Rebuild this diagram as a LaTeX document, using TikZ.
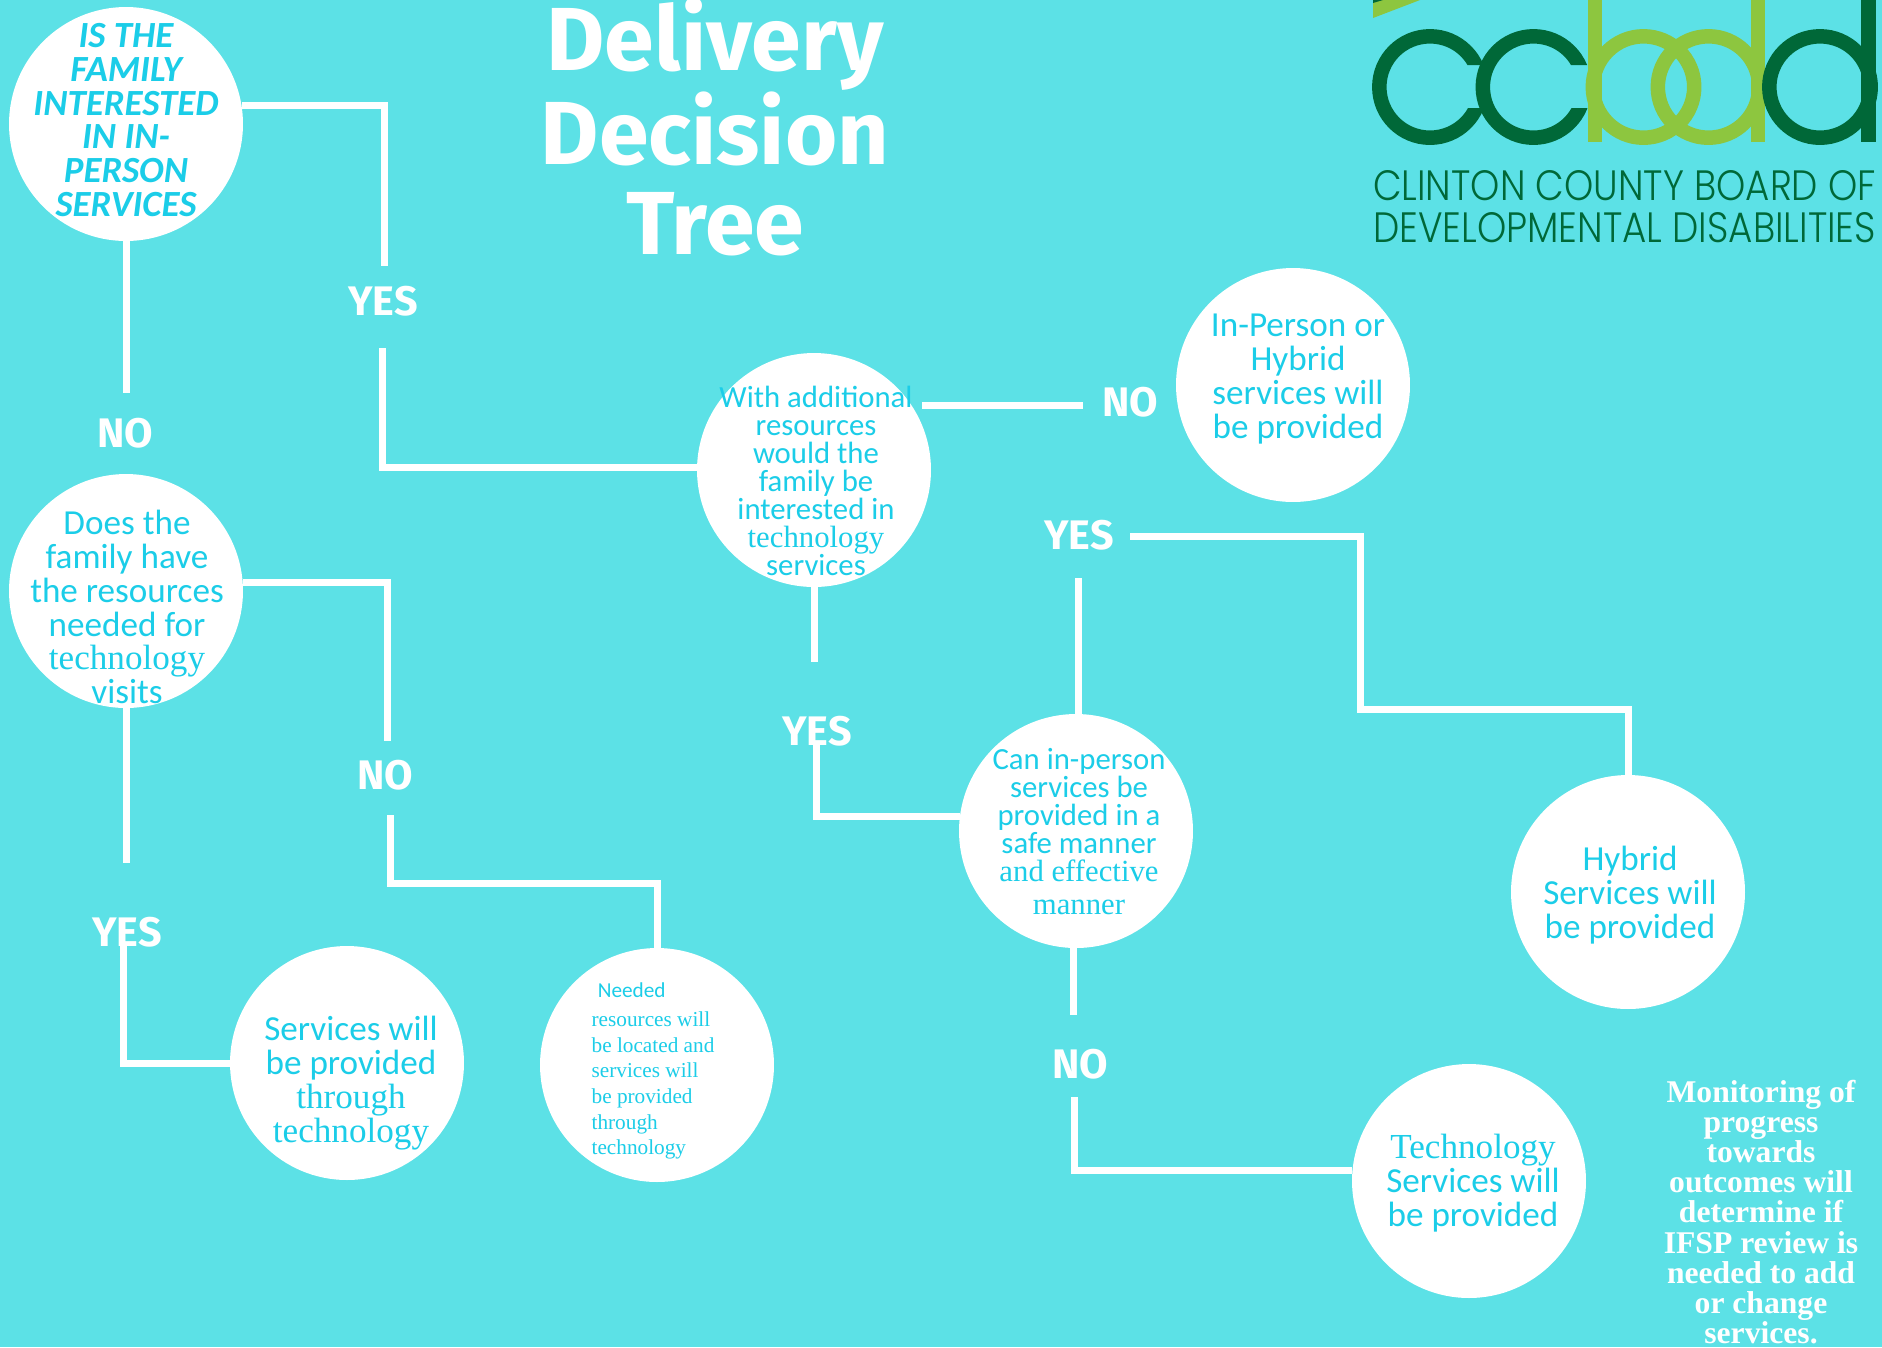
\documentclass[tikz,border=0pt]{standalone}
\usepackage{fontspec}
\usepackage{graphicx}
\setmainfont{Carlito}
\newfontfamily\wordserif{Liberation Serif}
\newfontfamily\headfont{Fira Sans}
\newfontfamily\logofont{Poppins}[UprightFont=* Light]
\definecolor{sheet}{HTML}{5CE1E6}
\definecolor{ink}{HTML}{1BCDE8}
\definecolor{logodark}{HTML}{006838}
\definecolor{logolight}{HTML}{8DC63F}
\tikzset{
	disc/.style={circle, fill=white, inner sep=0pt, minimum size=4.68cm},
	disctext/.style={text=ink, align=center, inner sep=0pt, font=\fontsize{20}{19.3}\selectfont},
	smalltext/.style={disctext, font=\fontsize{17.5}{15.9}\selectfont},
	tag/.style={text=white, inner sep=0pt, font=\headfont\bfseries\fontsize{23.5}{24}\selectfont},
	wire/.style={draw=white, line width=0.14cm},
	cring/.style={draw=logodark, line width=0.29cm},
	bring/.style={draw=logolight, line width=0.29cm},
}

\begin{document}
\begin{tikzpicture}[x=0.02cm, y=-0.02cm]
	\useasboundingbox (0,0) rectangle (1882,1347);
	\fill[sheet] (0,0) rectangle (1882,1347);

	% logo
	\foreach \cx in {1430,1533.5} {
		\begin{scope}[even odd rule]
			\clip (1340,-10) rectangle (1890,200) (\cx,65) rectangle (\cx+70,108);
			\draw[cring] (\cx,87) circle [radius=50.7];
		\end{scope}
	}
	\fill[logolight] (1373,18) -- (1373,0) -- (1420,0) -- cycle;
	\fill[logodark] (1373,3) -- (1373,0) -- (1383,0) -- cycle;
	\draw[bring] (1643.5,87) circle [radius=50.7];
	\draw[bring] (1708.5,87) circle [radius=50.7];
	\fill[logolight] (1588,0) rectangle (1602,142);
	\fill[logolight] (1750.5,0) rectangle (1764.5,142);
	\draw[cring] (1820,87) circle [radius=50.7];
	\fill[logodark] (1861,0) rectangle (1876,142);
	\node[text=logodark, inner sep=0pt] (logoline1) at (1624.5,185.5) {\resizebox{10.06cm}{0.6cm}{\logofont CLINTON COUNTY BOARD OF}};
	\node[text=logodark, inner sep=0pt] (logoline2) at (1624.5,227.5) {\resizebox{10.06cm}{0.6cm}{\logofont DEVELOPMENTAL DISABILITIES}};

	\node[text=white, align=center, inner sep=0pt, font=\headfont\bfseries\fontsize{51}{51}\selectfont] (title) at (715,127) {Delivery\\Decision\\Tree};

	\node[disc] (family) at (126,124) {};
	\node[disc] (resources) at (126,591) {};
	\node[disc] (additional) at (814,470) {};
	\node[disc] (hybridor) at (1293,385) {};
	\node[disc] (safe) at (1076,831) {};
	\node[disc] (hybrid) at (1628,892) {};
	\node[disc] (services) at (347,1063) {};
	\node[disc] (needed) at (657,1065) {};
	\node[disc] (techserv) at (1469,1181) {};

	\node[disctext, font=\bfseries\itshape\fontsize{21}{19.3}\selectfont] (familytext) at (126,120) {IS THE\\FAMILY\\INTERESTED\\IN IN-\\PERSON\\SERVICES};
	\node[disctext] (resourcestext) at (127,607) {Does the\\family have\\the resources\\needed for\\{\wordserif technology}\\visits};
	\node[smalltext] (additionaltext) at (816,481) {With additional\\resources\\would the\\family be\\interested in\\{\wordserif technology}\\services};
	\node[disctext] (hybridortext) at (1298,379) {In-Person or\\Hybrid\\services will\\be provided};
	\node[smalltext] (safetext) at (1079,832) {Can in-person\\services be\\provided in a\\safe manner\\{\wordserif and effective}\\[3pt]{\wordserif manner}};
	\node[disctext] (hybridtext) at (1630,895) {Hybrid\\Services will\\be provided};
	\node[disctext] (servicestext) at (351,1083) {Services will\\be provided\\{\wordserif through}\\{\wordserif technology}};
	\node[text=ink, align=left, inner sep=0pt, font=\wordserif\fontsize{12.1}{14.6}\selectfont] (neededtext) at (653,1071) {\hspace{3.5pt}{\rmfamily Needed}\\[2pt]resources will\\be located and\\services will\\be provided\\through\\technology};
	\node[disctext] (techservtext) at (1473,1183) {{\wordserif Technology}\\Services will\\be provided};

	\node[text=white, align=center, inner sep=0pt, font=\wordserif\bfseries\fontsize{18}{17.2}\selectfont] (monitor) at (1761,1212) {Monitoring of\\progress\\towards\\outcomes will\\determine if\\IFSP review is\\needed to add\\or change\\services.};

	\node[tag] (noa) at (125,433) {NO};
	\node[tag] (yesa) at (383,301) {YES};
	\node[tag] (nob) at (385,775) {NO};
	\node[tag] (yesb) at (127,932) {YES};
	\node[tag] (noc) at (1130,402) {NO};
	\node[tag] (yesc) at (817,731) {YES};
	\node[tag] (yesd) at (1079,535) {YES};
	\node[tag] (nod) at (1080,1064) {NO};

	\coordinate (noaup) at (126,393);
	\coordinate (yesaup) at (384.5,266);
	\coordinate (yesadown) at (382,348);
	\coordinate (nobup) at (387,741);
	\coordinate (nobdown) at (390.5,815);
	\coordinate (nobbend) at (657,883);
	\coordinate (yesbup) at (126,863);
	\coordinate (yesbdown) at (123.5,946);
	\coordinate (nocleft) at (1083,405);
	\coordinate (additionalright) at (922,405);
	\coordinate (yescup) at (814,662);
	\coordinate (yescdown) at (816,745);
	\coordinate (yesddown) at (1078,578);
	\coordinate (yesdright) at (1130,536);
	\coordinate (yesdbend) at (1360,709);
	\coordinate (nodup) at (1073,1015);
	\coordinate (noddown) at (1074,1097);

	\draw[wire] (family.south) -- (noaup);
	\draw[wire] (family.9) -| (yesaup);
	\draw[wire] (yesadown) |- (additional.179);
	\draw[wire] (additionalright) -- (nocleft);
	\draw[wire] (additional.south) -- (yescup);
	\draw[wire] (yescdown) |- (safe.173);
	\draw[wire] (yesddown |- safe.89) -- (yesddown);
	\draw[wire] (yesdright) -| (yesdbend) -| (hybrid.north);
	\draw[wire] (nodup |- safe.-91) -- (nodup);
	\draw[wire] (noddown) |- (techserv.175);
	\draw[wire] (resources.south) -- (yesbup);
	\draw[wire] (yesbdown) |- (services.west);
	\draw[wire] (resources.4) -| (nobup);
	\draw[wire] (nobdown) |- (nobbend) -- (needed.north);
\end{tikzpicture}
\end{document}
